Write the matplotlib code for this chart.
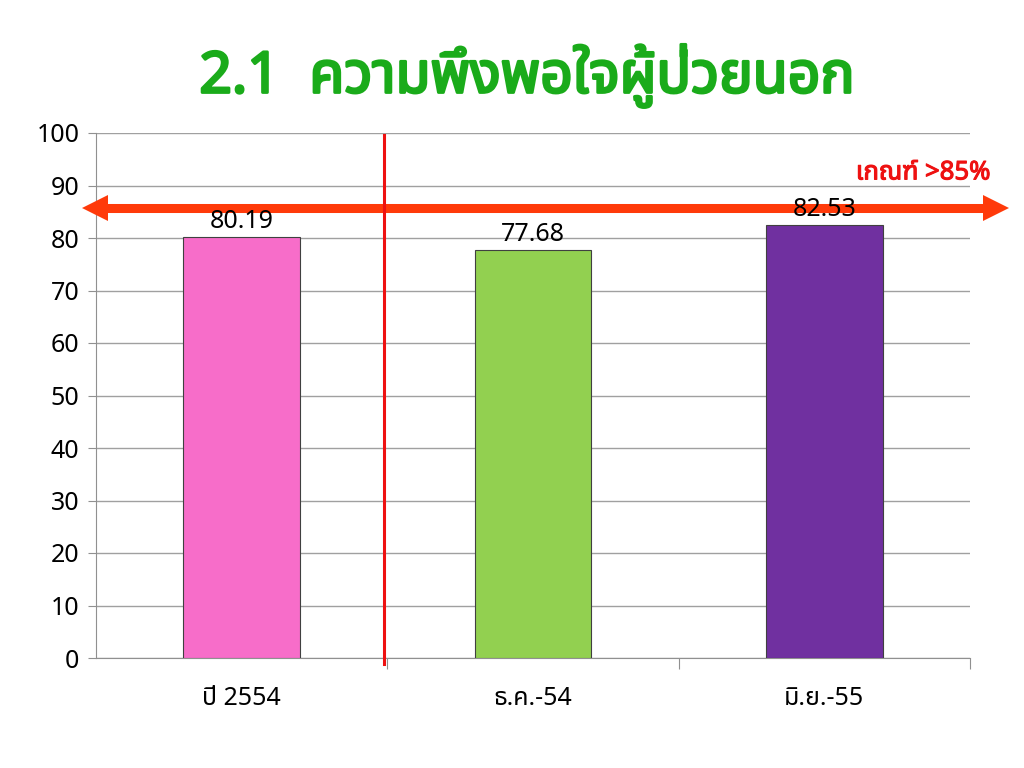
import matplotlib
matplotlib.use("Agg")
import matplotlib.pyplot as plt
import matplotlib.patheffects as pe
from matplotlib import font_manager

categories = ["ปี 2554", "ธ.ค.-54", "มิ.ย.-55"]
values = [80.19, 77.68, 82.53]
colors = ["#f76dc9", "#92d050", "#7030a0"]
threshold = 85.7
title = "2.1  ความพึงพอใจผู้ป่วยนอก"
criterion = "เกณฑ์ >85%"

names = {f.name for f in font_manager.fontManager.ttflist}
thai_candidates = ["Noto Sans Thai", "Noto Sans Thai UI", "Noto Serif Thai", "Loma", "Garuda",
                   "Tlwg Typo", "Waree", "Sarabun", "Kinnari", "Norasi", "Laksaman", "Umpush"]
fams = [f for f in thai_candidates if f in names] + ["Noto Sans", "DejaVu Sans"]
plt.rcParams["font.family"] = fams

fig = plt.figure(figsize=(10.24, 7.68), dpi=100)
ax = fig.add_axes([96/1024, 1-658/768, (970-96)/1024, (658-133)/768])

x = range(len(categories))
ax.bar(x, values, width=0.4, color=colors, edgecolor="#404040", linewidth=0.8, zorder=3)
for xi, v in zip(x, values):
    ax.text(xi, v + 0.6, f"{v:.2f}", ha="center", va="bottom", fontsize=18, color="black", zorder=5)

ax.set_xlim(-0.5, 2.5)
ax.set_ylim(0, 100)
ax.set_yticks(range(0, 101, 10))
ax.yaxis.grid(True, color="#a0a0a0", linewidth=1.0, zorder=0)
ax.set_axisbelow(True)
for s in ["top", "right"]:
    ax.spines[s].set_visible(False)
ax.spines["left"].set_color("#909090")
ax.spines["bottom"].set_color("#909090")
ax.tick_params(axis="y", length=6, color="#909090", labelsize=18, pad=6)
ax.set_xticks([0.5, 1.5, 2.5], minor=False)
ax.set_xticklabels([])
ax.tick_params(axis="x", length=8, color="#909090", direction="out")
ax.set_xticks(list(x), minor=True)
ax.set_xticklabels(categories, minor=True, fontsize=18)
ax.tick_params(axis="x", which="minor", length=0, pad=20)

# red vertical divider
ax.plot([0.49, 0.49], [99.6, -1.2], color="#ee1111", linewidth=2.2, clip_on=False, zorder=6)

# threshold double arrow (shaft + two triangular heads)
arrow_color = "#ff3a0a"
xl, xr = -0.505, 2.588
ax.plot([xl, xr], [threshold, threshold], color=arrow_color, linewidth=6.5,
        solid_capstyle="butt", clip_on=False, zorder=4)
ax.plot([xl], [threshold], marker="<", markersize=18.5, color=arrow_color,
        markeredgewidth=0, clip_on=False, zorder=4)
ax.plot([xr], [threshold], marker=">", markersize=18.5, color=arrow_color,
        markeredgewidth=0, clip_on=False, zorder=4)

ax.text(2.57, 92.4, criterion, ha="right", va="center", fontsize=18.5,
        color="#ee1111", zorder=6,
        path_effects=[pe.withStroke(linewidth=0.8, foreground="#ee1111")])

fig.text(527/1024, 1-76/768, title, ha="center", va="center", fontsize=41,
         color="#1aab1a",
         path_effects=[pe.withStroke(linewidth=2.0, foreground="#1aab1a")])

fig.savefig("out.png", dpi=100)
